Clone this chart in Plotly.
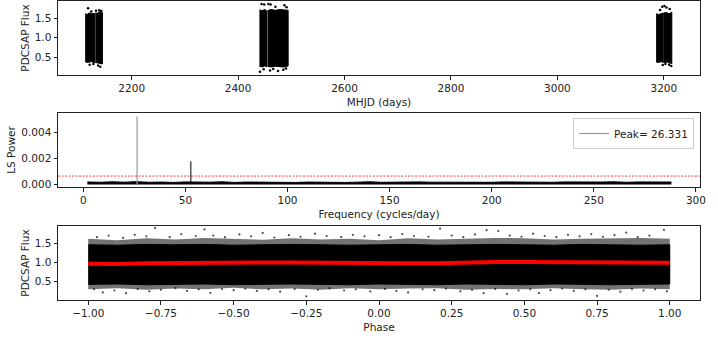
import plotly.graph_objects as go

# ---- light curve (MHJD vs flux), one envelope per orbit chunk ----
lc_chunks = {
    "A1": {"t": [2112.5, 2116, 2120, 2125, 2130], "hi": [1.62, 1.60, 1.64, 1.62, 1.63], "lo": [0.38, 0.36, 0.37, 0.38, 0.35]},
    "A2": {"t": [2131.5, 2135, 2140, 2145], "hi": [1.64, 1.63, 1.67, 1.65], "lo": [0.36, 0.35, 0.33, 0.32]},
    "B1": {"t": [2440, 2445, 2450, 2453.3], "hi": [1.72, 1.70, 1.73, 1.70], "lo": [0.26, 0.24, 0.27, 0.25]},
    "B2": {"t": [2455, 2462, 2470, 2478, 2486, 2494], "hi": [1.70, 1.73, 1.71, 1.73, 1.72, 1.71], "lo": [0.26, 0.24, 0.26, 0.25, 0.24, 0.27]},
    "C1": {"t": [3185.5, 3190, 3195, 3199], "hi": [1.62, 1.60, 1.62, 1.64], "lo": [0.37, 0.36, 0.38, 0.36]},
    "C2": {"t": [3200, 3205, 3210, 3215], "hi": [1.64, 1.65, 1.62, 1.66], "lo": [0.35, 0.37, 0.36, 0.33]},
}
lc_out_t = [2118, 2124, 2133, 2139, 2143, 2121, 2137, 2141, 2128,
            2444, 2449, 2457, 2461, 2470, 2487, 2491, 2441, 2448, 2460, 2466, 2475, 2485, 2490,
            3193, 3197, 3201, 3205, 3211, 3198, 3203, 3210, 3214]
lc_out_f = [1.76, 1.68, 1.70, 1.71, 1.69, 0.30, 0.28, 0.25, 0.32,
            1.87, 1.86, 1.87, 1.86, 1.80, 1.84, 1.79, 0.12, 0.18, 0.15, 0.19, 0.14, 0.17, 0.20,
            1.72, 1.80, 1.82, 1.78, 1.74, 0.29, 0.32, 0.30, 0.27]

# ---- Lomb-Scargle periodogram ----
noise_freq = [2, 8, 14, 20, 26, 32, 38, 44, 50, 56, 62, 68, 74, 80, 86, 92, 98, 104, 110, 116,
              122, 128, 134, 140, 146, 152, 158, 164, 170, 176, 182, 188, 194, 200, 206, 212,
              218, 224, 230, 236, 242, 248, 254, 260, 266, 272, 278, 284, 288]
noise_pow = [0.00019, 0.00016, 0.00020, 0.00017, 0.00021, 0.00016, 0.00018, 0.00015, 0.00019, 0.00016,
             0.00017, 0.00020, 0.00015, 0.00018, 0.00016, 0.00019, 0.00017, 0.00015, 0.00018, 0.00016,
             0.00019, 0.00015, 0.00017, 0.00020, 0.00016, 0.00018, 0.00015, 0.00019, 0.00017, 0.00016,
             0.00020, 0.00015, 0.00018, 0.00016, 0.00019, 0.00017, 0.00015, 0.00018, 0.00016, 0.00019,
             0.00017, 0.00015, 0.00018, 0.00020, 0.00016, 0.00019, 0.00017, 0.00016, 0.00018]
peak_freq = 26.331
peak_pow = 0.00522
harm_freq = 52.66
harm_pow = 0.00178
fap_level = 0.00064

# ---- phase-folded curve ----
ph = [-1.0, -0.9, -0.8, -0.7, -0.6, -0.5, -0.4, -0.3, -0.2, -0.1, 0.0,
      0.1, 0.2, 0.3, 0.4, 0.5, 0.6, 0.7, 0.8, 0.9, 1.0]
ph_core_hi = [1.46, 1.45, 1.47, 1.46, 1.47, 1.45, 1.46, 1.47, 1.46, 1.45, 1.46,
              1.47, 1.45, 1.46, 1.47, 1.46, 1.45, 1.47, 1.46, 1.45, 1.46]
ph_core_lo = [0.43, 0.44, 0.42, 0.43, 0.44, 0.42, 0.43, 0.44, 0.43, 0.42, 0.44,
              0.43, 0.42, 0.44, 0.43, 0.42, 0.44, 0.43, 0.42, 0.43, 0.44]
ph_fringe_hi = [1.62, 1.58, 1.63, 1.60, 1.64, 1.61, 1.59, 1.63, 1.60, 1.62, 1.58,
                1.63, 1.60, 1.62, 1.64, 1.63, 1.60, 1.62, 1.63, 1.64, 1.62]
ph_fringe_lo = [0.30, 0.33, 0.29, 0.32, 0.30, 0.34, 0.30, 0.32, 0.29, 0.33, 0.30,
                0.32, 0.33, 0.29, 0.31, 0.30, 0.33, 0.30, 0.29, 0.32, 0.30]
ph_bin = [0.97, 0.96, 0.98, 0.99, 1.00, 1.00, 1.00, 1.00, 0.99, 0.99, 0.98,
          0.98, 0.98, 1.00, 1.01, 1.01, 1.01, 1.00, 1.00, 1.00, 0.99]
ph_out_x = [-0.97, -0.93, -0.88, -0.84, -0.80, -0.77, -0.72, -0.68, -0.63, -0.60, -0.57, -0.53,
            -0.48, -0.44, -0.40, -0.36, -0.31, -0.27, -0.22, -0.18, -0.13, -0.09, -0.05, 0.00,
            0.04, 0.08, 0.12, 0.17, 0.21, 0.25, 0.29, 0.33, 0.37, 0.41, 0.45, 0.49, 0.53, 0.57,
            0.61, 0.65, 0.69, 0.73, 0.77, 0.81, 0.85, 0.89, 0.93, 0.98,
            -0.98, -0.95, -0.91, -0.87, -0.83, -0.79, -0.75, -0.70, -0.66, -0.62, -0.58, -0.54,
            -0.50, -0.46, -0.42, -0.38, -0.34, -0.29, -0.25, -0.21, -0.17, -0.12, -0.08, -0.03,
            0.02, 0.06, 0.10, 0.15, 0.19, 0.23, 0.28, 0.32, 0.36, 0.40, 0.44, 0.48, 0.52, 0.55,
            0.59, 0.63, 0.67, 0.71, 0.75, 0.79, 0.83, 0.87, 0.91, 0.95, 0.99]
ph_out_y = [1.66, 1.70, 1.64, 1.72, 1.68, 1.90, 1.66, 1.74, 1.69, 1.86, 1.70, 1.66,
            1.73, 1.68, 1.77, 1.65, 1.71, 1.67, 1.75, 1.69, 1.66, 1.72, 1.68, 1.71,
            1.66, 1.74, 1.69, 1.67, 1.88, 1.70, 1.66, 1.73, 1.84, 1.82, 1.70, 1.67, 1.75, 1.69,
            1.66, 1.72, 1.68, 1.74, 1.67, 1.71, 1.78, 1.66, 1.70, 1.85,
            0.30, 0.22, 0.27, 0.20, 0.31, 0.25, 0.29, 0.33, 0.26, 0.30, 0.21, 0.31,
            0.28, 0.32, 0.26, 0.30, 0.24, 0.31, 0.12, 0.29, 0.33, 0.27, 0.30, 0.25,
            0.31, 0.26, 0.22, 0.30, 0.28, 0.32, 0.25, 0.29, 0.20, 0.31, 0.18, 0.27, 0.30, 0.20,
            0.28, 0.32, 0.26, 0.30, 0.13, 0.29, 0.24, 0.31, 0.27, 0.30, 0.25]

FONT = "DejaVu Sans"
FS = 10.5
TF = dict(family=FONT, size=FS, color="#222")
fig = go.Figure()

# panel 1
for c in lc_chunks.values():
    fig.add_trace(go.Scatter(x=c["t"] + c["t"][::-1], y=c["hi"] + c["lo"][::-1], fill="toself",
                             fillcolor="black", line=dict(color="black", width=1), mode="lines",
                             xaxis="x", yaxis="y", showlegend=False, hoverinfo="skip"))
fig.add_trace(go.Scatter(x=lc_out_t, y=lc_out_f, mode="markers", marker=dict(color="black", size=2.5),
                         xaxis="x", yaxis="y", showlegend=False))

# panel 2
fig.add_trace(go.Scatter(x=noise_freq, y=noise_pow, mode="lines", fill="tozeroy", fillcolor="black",
                         line=dict(color="black", width=1), xaxis="x2", yaxis="y2", showlegend=False))
fig.add_trace(go.Scatter(x=[harm_freq, harm_freq], y=[0, harm_pow], mode="lines",
                         line=dict(color="black", width=1), xaxis="x2", yaxis="y2", showlegend=False))
fig.add_trace(go.Scatter(x=[peak_freq, peak_freq], y=[0, peak_pow], mode="lines",
                         line=dict(color="#999999", width=1.2), xaxis="x2", yaxis="y2",
                         name="Peak= %.3f" % peak_freq, showlegend=True))
fig.add_trace(go.Scatter(x=[-12.4, 302], y=[fap_level, fap_level], mode="lines",
                         line=dict(color="red", width=0.8, dash="2px,1.5px"), xaxis="x2", yaxis="y2",
                         showlegend=False))

# panel 3
fig.add_trace(go.Scatter(x=ph + ph[::-1], y=ph_fringe_hi + ph_fringe_lo[::-1], fill="toself",
                         fillcolor="rgba(0,0,0,0.55)", line=dict(width=0), mode="lines",
                         xaxis="x3", yaxis="y3", showlegend=False, hoverinfo="skip"))
fig.add_trace(go.Scatter(x=ph + ph[::-1], y=ph_core_hi + ph_core_lo[::-1], fill="toself",
                         fillcolor="black", line=dict(color="black", width=1), mode="lines",
                         xaxis="x3", yaxis="y3", showlegend=False, hoverinfo="skip"))
fig.add_trace(go.Scatter(x=ph_out_x, y=ph_out_y, mode="markers",
                         marker=dict(color="rgba(0,0,0,0.7)", size=2.2),
                         xaxis="x3", yaxis="y3", showlegend=False))
fig.add_trace(go.Scatter(x=ph, y=ph_bin, mode="lines", line=dict(color="red", width=4),
                         xaxis="x3", yaxis="y3", showlegend=False))

xd = [58 / 718, 700 / 718]
ax = dict(showline=True, mirror=True, linecolor="#222", linewidth=1, ticks="outside",
          ticklen=3.5, tickcolor="#222", showgrid=False, zeroline=False, automargin=False,
          tickfont=TF)

fig.update_layout(
    width=718, height=343, margin=dict(l=0, r=0, t=0, b=0),
    paper_bgcolor="white", plot_bgcolor="white",
    font=TF,
    xaxis=dict(ax, domain=xd, anchor="y", range=[2061.5, 3268], tickvals=[2200, 2400, 2600, 2800, 3000, 3200],
               title=dict(text="MHJD (days)", standoff=5, font=TF)),
    yaxis=dict(ax, domain=[1 - 75 / 343, 1 - 1 / 343], anchor="x", range=[0.034, 1.95],
               tickvals=[0.5, 1.0, 1.5], ticktext=["0.5", "1.0", "1.5"],
               title=dict(text="PDCSAP Flux", standoff=3, font=TF)),
    xaxis2=dict(ax, domain=xd, anchor="y2", range=[-12.4, 302], tickvals=[0, 50, 100, 150, 200, 250, 300],
                title=dict(text="Frequency (cycles/day)", standoff=5, font=TF)),
    yaxis2=dict(ax, domain=[1 - 187 / 343, 1 - 113 / 343], anchor="x2", range=[-0.0002, 0.00548],
                tickvals=[0, 0.002, 0.004], ticktext=["0.000", "0.002", "0.004"],
                title=dict(text="LS Power", standoff=3, font=TF)),
    xaxis3=dict(ax, domain=xd, anchor="y3", range=[-1.104, 1.104],
                tickvals=[-1, -0.75, -0.5, -0.25, 0, 0.25, 0.5, 0.75, 1],
                ticktext=["\u22121.00", "\u22120.75", "\u22120.50", "\u22120.25", "0.00", "0.25", "0.50", "0.75", "1.00"],
                title=dict(text="Phase", standoff=5, font=TF)),
    yaxis3=dict(ax, domain=[1 - 300 / 343, 1 - 226 / 343], anchor="x3", range=[0.023, 1.95],
                tickvals=[0.5, 1.0, 1.5], ticktext=["0.5", "1.0", "1.5"],
                title=dict(text="PDCSAP Flux", standoff=3, font=TF)),
    legend=dict(x=694 / 718, xanchor="right", y=1 - 118 / 343, yanchor="top",
                bgcolor="rgba(255,255,255,0.8)", bordercolor="#cccccc", borderwidth=1,
                font=TF, itemwidth=30),
)

# page body has a default 8px margin; drop it so the figure sits at the window corner
fig.write_html("out.html", config={"displayModeBar": False},
               post_script="document.body.style.margin='0';document.body.style.overflow='hidden';")
